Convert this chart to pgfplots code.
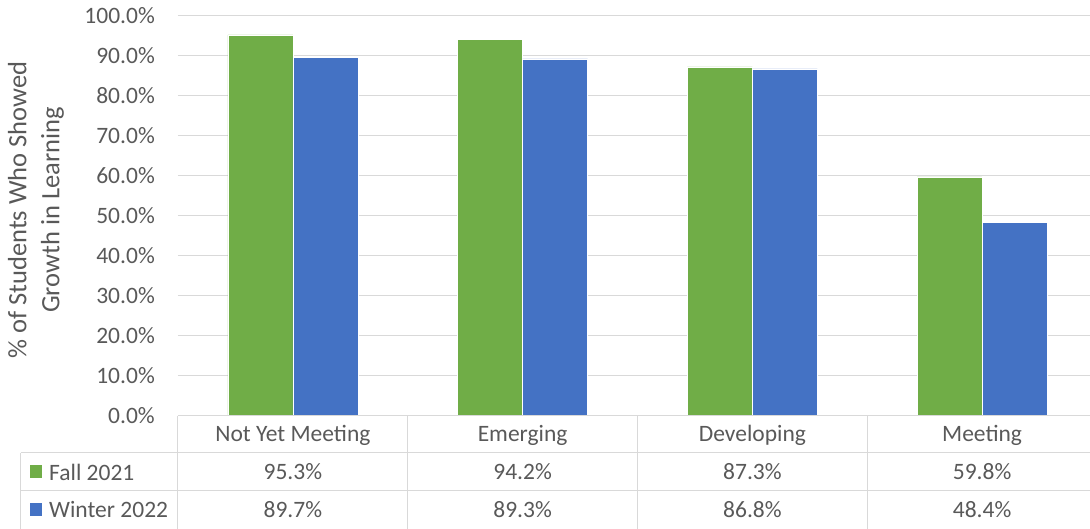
\documentclass[border=0pt]{standalone}
\usepackage{pgfplots}
\pgfplotsset{compat=1.18}
\usepackage{fontspec}
\setmainfont{Carlito}
\definecolor{fallgreen}{HTML}{70AD47}
\definecolor{winblue}{HTML}{4472C4}
\definecolor{txt}{HTML}{595959}
\definecolor{gridc}{HTML}{D9D9D9}
\newcommand{\cf}{\fontsize{23.5}{28}\selectfont}
\begin{document}
\begin{tikzpicture}[x=1pt,y=1pt]
\useasboundingbox (-178,-113) rectangle (912,416);
\begin{axis}[
  at={(0,0)}, anchor=south west,
  scale only axis, width=919pt, height=400pt,
  xmin=-0.5, xmax=3.5, ymin=0, ymax=100,
  axis line style={draw=none},
  xtick=\empty,
  ytick={0,10,...,100},
  major tick length=0pt,
  ymajorgrids, grid style={gridc, line width=1pt},
  ybar=0pt, bar width=65pt,
  /pgf/number format/assume math mode=true,
  yticklabel={\pgfmathprintnumber[fixed,fixed zerofill,precision=1]{\tick}\%},
  yticklabel style={font=\cf, text=txt, anchor=east, inner sep=0pt, xshift=-23pt},
  clip=false,
]
\addplot[fill=fallgreen, draw=white, line width=0.5pt] coordinates {(0,95.3) (1,94.2) (2,87.3) (3,59.8)};
\addplot[fill=winblue, draw=white, line width=0.5pt] coordinates {(0,89.7) (1,89.3) (2,86.8) (3,48.4)};
\end{axis}
% data table
\draw[gridc, line width=1pt] (0,0) -- (919,0);
\draw[gridc, line width=1pt] (-157,-37) -- (919,-37);
\draw[gridc, line width=1pt] (-157,-75) -- (919,-75);
\foreach \xx in {0,229.75,459.5,689.25} \draw[gridc, line width=1pt] (\xx,0) -- (\xx,-113);
\draw[gridc, line width=1pt] (-157,-37) -- (-157,-113);
\begin{scope}[every node/.style={font=\cf, text=txt}]
\node at (114.9,-19) {Not Yet Meeting};
\node at (344.6,-19) {Emerging};
\node at (574.4,-19) {Developing};
\node at (804.1,-19) {Meeting};
\node at (114.9,-56) {95.3\%};
\node at (344.6,-56) {94.2\%};
\node at (574.4,-56) {87.3\%};
\node at (804.1,-56) {59.8\%};
\node at (114.9,-94) {89.7\%};
\node at (344.6,-94) {89.3\%};
\node at (574.4,-94) {86.8\%};
\node at (804.1,-94) {48.4\%};
\node[anchor=west, inner sep=0pt] at (-129,-56) {Fall 2021};
\node[anchor=west, inner sep=0pt] at (-129,-94) {Winter 2022};
\node[rotate=90, align=center, font=\fontsize{26.5}{33}\selectfont] at (-142,206) {\% of Students Who Showed\\Growth in Learning};
\end{scope}
\fill[fallgreen] (-148,-62.5) rectangle (-136,-49.5);
\fill[winblue] (-148,-100.5) rectangle (-136,-87.5);
\end{tikzpicture}
\end{document}
